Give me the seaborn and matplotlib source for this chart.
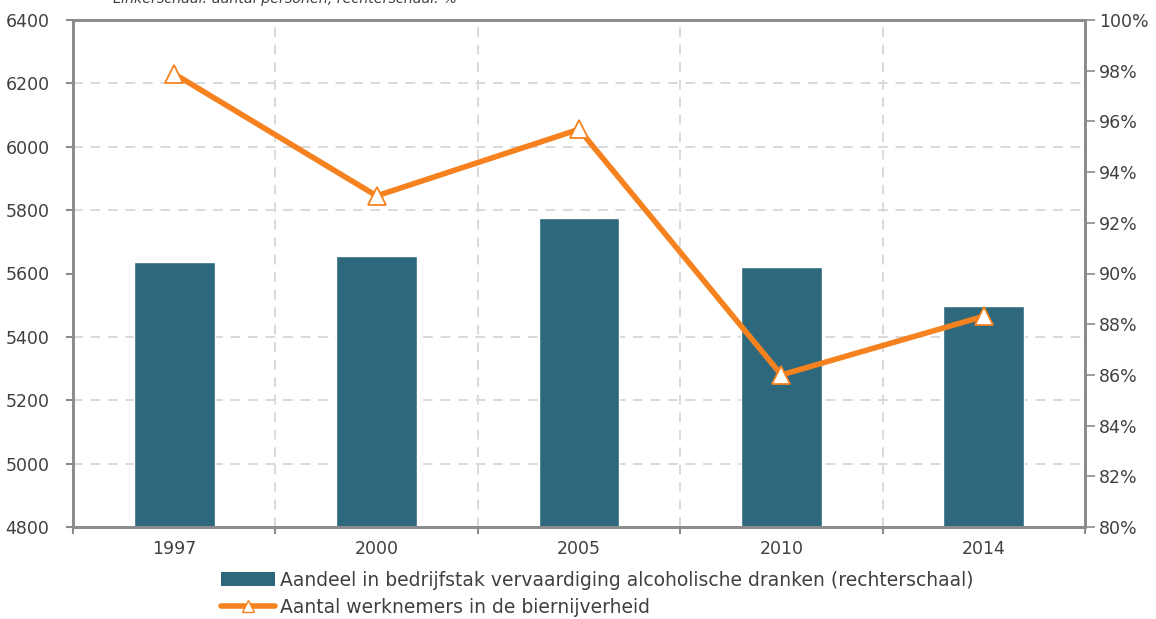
import numpy as np
import pandas as pd
import matplotlib
matplotlib.use("Agg")
import matplotlib.pyplot as plt
from matplotlib.lines import Line2D
from matplotlib.patches import Patch
import seaborn as sns

# data
years = ["1997", "2000", "2005", "2010", "2014"]
share_pct = [90.45, 90.7, 92.2, 90.25, 88.7]          # bars, right scale (%)
employees = [6230, 5845, 6055, 5280, 5465]            # line, left scale (persons)

bar_label = "Aandeel in bedrijfstak vervaardiging alcoholische dranken (rechterschaal)"
line_label = "Aantal werknemers in de biernijverheid"
subtitle = "Linkerschaal: aantal personen, rechterschaal: %"

bar_color = "#2E687C"
line_color = "#F5821F"
spine_color = "#8C8C8C"
grid_color = "#D9D9D9"
text_color = "#404040"

sns.set_style("white")
plt.rcParams["font.family"] = ["DejaVu Sans"]

df = pd.DataFrame({"jaar": years, "aandeel": share_pct, "werknemers": employees})

fig = plt.figure(figsize=(11.56, 6.19), dpi=100)
ax = fig.add_axes([73 / 1156, 1 - 527 / 619, (1085 - 73) / 1156, (527 - 20) / 619])
ax2 = ax.twinx()

# bars on the percentage scale (drawn first, grid behind them)
sns.barplot(data=df, x="jaar", y="aandeel", color=bar_color, width=0.4,
            saturation=1, ax=ax, zorder=2)
ax.set_ylim(80, 100)
ax.set_xlim(-0.5, 4.5)
ax.set_yticks(np.arange(80, 101, 2))
ax.set_yticklabels([f"{v}%" for v in range(80, 101, 2)])
ax.set_xlabel("")
ax.set_ylabel("")

# gridlines follow the persons scale (every 200 = 2.5%)
ax.set_yticks(np.arange(82.5, 100, 2.5), minor=True)
ax.set_xticks(np.arange(-0.5, 4.6, 1), minor=True)
ax.grid(which="minor", axis="both", color=grid_color, linestyle=(0, (5, 4)),
        linewidth=1.4, zorder=0)
ax.set_axisbelow(True)
ax.yaxis.tick_right()
ax.tick_params(axis="y", which="minor", left=False, right=False, length=0)
ax.tick_params(axis="y", which="major", left=False, right=True, labelleft=False,
               labelright=True, length=7, width=1.2, color=spine_color,
               labelsize=12.5, labelcolor=text_color, pad=3)
ax.tick_params(axis="x", which="major", length=0, labelsize=12.5,
               labelcolor=text_color, pad=9)
ax.tick_params(axis="x", which="minor", bottom=True, length=5, width=1.5,
               color=spine_color)

# line on the persons scale
sns.pointplot(data=df, x="jaar", y="werknemers", color=line_color, ax=ax2,
              markers="^", errorbar=None, linewidth=4,
              markersize=13, markerfacecolor="white", markeredgecolor=line_color,
              markeredgewidth=1.3)
ax2.set_ylim(4800, 6400)
ax2.set_xlim(-0.5, 4.5)
ax2.set_yticks(np.arange(4800, 6401, 200))
ax2.yaxis.tick_left()
ax2.set_xlabel("")
ax2.set_ylabel("")
ax2.tick_params(axis="y", left=True, right=False, labelleft=True,
                labelright=False, length=5, width=1.5, color=spine_color,
                labelsize=12.5, labelcolor=text_color, pad=12)

for a in (ax, ax2):
    for s in a.spines.values():
        s.set_color(spine_color)
        s.set_linewidth(2)

fig.text(113 / 1156, 1 - 3 / 619, subtitle, fontsize=10.3, style="italic",
         color=text_color, va="baseline", ha="left")

handles = [
    Patch(facecolor=bar_color, edgecolor="none"),
    Line2D([], [], color=line_color, linewidth=4, marker="^", markersize=9,
           markerfacecolor="white", markeredgecolor=line_color),
]
fig.legend(handles, [bar_label, line_label], loc="upper left",
           bbox_to_anchor=(213 / 1156, 1 - 563 / 619), frameon=False,
           fontsize=13.5, labelcolor=text_color, handlelength=2.9,
           handletextpad=0.3, labelspacing=0.45, borderaxespad=0)

fig.savefig("out.png", dpi=100)
